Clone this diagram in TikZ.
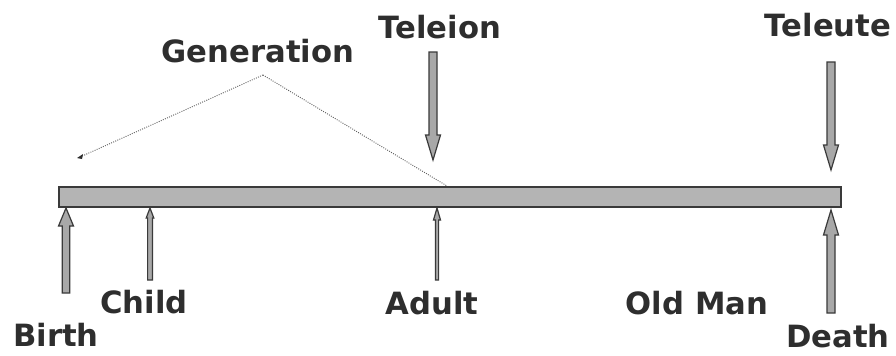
\documentclass[tikz,border=0pt]{standalone}
\usepackage{fontspec}
\setmainfont{DejaVu Sans}
\definecolor{txt}{HTML}{2E2E2E}
\definecolor{barfill}{HTML}{B4B4B4}
\definecolor{edge}{HTML}{3A3A3A}
\definecolor{arrfill}{HTML}{A8A8A8}
\newcommand{\blockarr}[7]{% name, x, tail y, head base y, tip y, shaft half width, head half width
  \filldraw[arrowshape] (#2-#6,#3) -- (#2-#6,#4) -- (#2-#7,#4) -- (#2,#5) -- (#2+#7,#4) -- (#2+#6,#4) -- (#2+#6,#3) -- cycle;
  \coordinate (#1) at (#2,#3);}
\begin{document}
\begin{tikzpicture}[x=0.75pt,y=-0.75pt,
  lbl/.style={font=\bfseries\fontsize{23}{26}\selectfont, text=txt, inner sep=0pt},
  arrowshape/.style={fill=arrfill, draw=edge, line width=0.9pt, line join=miter},
  genline/.style={draw=edge!80, line width=0.7pt, densely dotted}]
\useasboundingbox (0,0) rectangle (896,355);
\fill[white] (0,0) rectangle (896,355);
% bar
\node[draw=edge, fill=barfill, line width=1.2pt, minimum width=782*0.75pt, minimum height=20*0.75pt, inner sep=0pt, anchor=north west] (bar) at (58,186) {};
% labels
\node[lbl] (gen) at (258,51) {Generation};
\node[lbl] (teleion) at (440,27) {Teleion};
\node[lbl] (teleute) at (828,25) {Teleute};
\node[lbl] (child) at (144,302) {Child};
\node[lbl] (adult) at (432,303) {Adult};
\node[lbl] (oldman) at (697,303) {Old Man};
\node[lbl] (birth) at (56,335) {Birth};
\node[lbl] (death) at (838,336) {Death};
% arrows
\blockarr{birthtail}{66}{293}{226}{208}{3.8}{7.5}
\blockarr{childtail}{150}{280}{218}{208}{2.4}{3.8}
\blockarr{adulttail}{437}{280}{220}{208}{1.6}{3.5}
\blockarr{teleiontail}{433}{52}{135}{160}{4}{7.5}
\blockarr{teleutetail}{831}{62}{145}{170}{4}{7.5}
\blockarr{deathtail}{831}{313}{235}{210}{4}{7.5}
% generation span
\coordinate (apex) at (263,75);
\coordinate (genleft) at (80,157);
\coordinate (genright) at (447,186);
\draw[genline] (apex) -- (genright);
\draw[genline] (apex) -- (genleft);
\fill[txt] (genleft) ++(-3,1) -- ++(6,-4) -- ++(-1,5) -- cycle;
\end{tikzpicture}
\end{document}
